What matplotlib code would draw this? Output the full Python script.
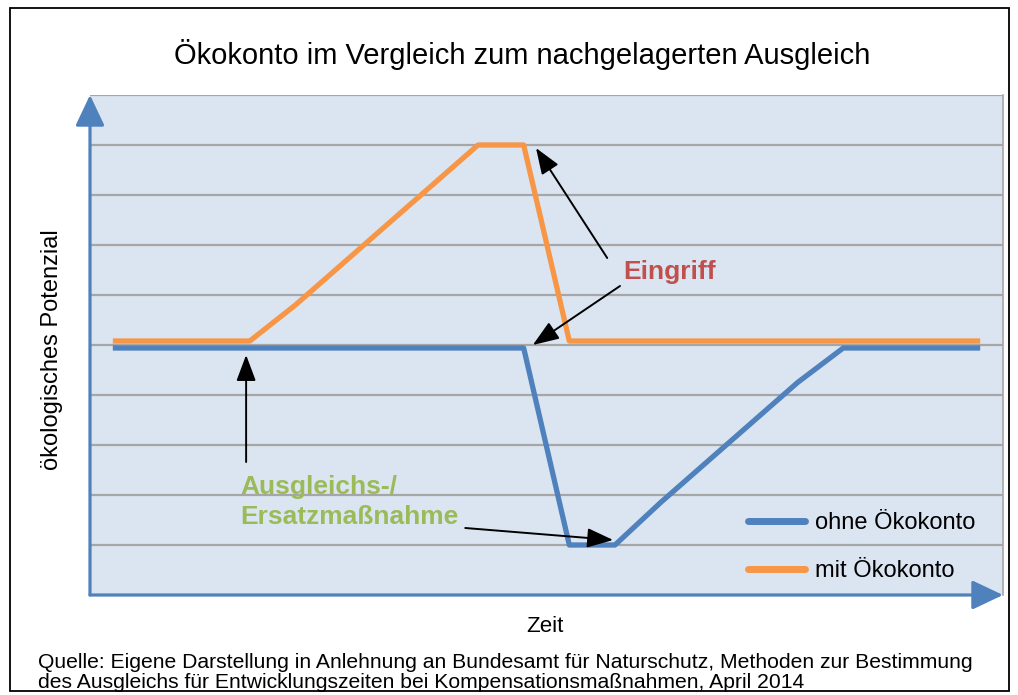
import matplotlib
matplotlib.use("Agg")
import matplotlib.pyplot as plt
from matplotlib.patches import Rectangle

plt.rcParams['font.family'] = ['Liberation Sans', 'DejaVu Sans']

# ---- data ----
zeit = list(range(20))
ohne_oekokonto = [4.94, 4.94, 4.94, 4.94, 4.94, 4.94, 4.94, 4.94, 4.94, 4.94,
                  1.0, 1.0, 1.85, 2.65, 3.45, 4.25, 4.94, 4.94, 4.94, 4.94]
mit_oekokonto = [5.08, 5.08, 5.08, 5.08, 5.8, 6.6, 7.4, 8.2, 9.0, 9.0,
                 5.08, 5.08, 5.08, 5.08, 5.08, 5.08, 5.08, 5.08, 5.08, 5.08]
y_grid = list(range(0, 11))

title = "Ökokonto im Vergleich zum nachgelagerten Ausgleich"
ylabel = "ökologisches Potenzial"
xlabel = "Zeit"
source_lines = ["Quelle: Eigene Darstellung in Anlehnung an Bundesamt für Naturschutz, Methoden zur Bestimmung",
                "des Ausgleichs für Entwicklungszeiten bei Kompensationsmaßnahmen, April 2014"]

BLUE = '#4F81BD'
ORANGE = '#F79646'
RED = '#C0504D'
GREEN = '#9BBB59'
BG = '#DBE5F1'
GRID = '#A6A6A6'

W, H = 1018, 695
fig = plt.figure(figsize=(W / 100, H / 100), dpi=100)
fig.patch.set_facecolor('white')

# figure border
fig.patches.append(Rectangle((10 / W, 1 - 691 / H), 999 / W, 683 / H,
                             transform=fig.transFigure, fill=False,
                             edgecolor='black', linewidth=1.3))

ax = fig.add_axes([90 / W, (H - 595) / H, 913 / W, 500 / H])
ax.set_facecolor(BG)
ax.set_xlim(-0.5, 19.5)
ax.set_ylim(0, 10)

for yv in y_grid[1:]:
    ax.axhline(yv, color=GRID, lw=1.6, zorder=1)

for s in ['left', 'bottom', 'top']:
    ax.spines[s].set_visible(False)
ax.spines['right'].set_color(GRID)
ax.spines['right'].set_linewidth(1.2)
ax.set_xticks([])
ax.set_yticks([])

ax.plot(zeit, ohne_oekokonto, color=BLUE, lw=3.8, solid_joinstyle='round',
        solid_capstyle='butt', zorder=3, label='ohne Ökokonto')
ax.plot(zeit, mit_oekokonto, color=ORANGE, lw=3.8, solid_joinstyle='round',
        solid_capstyle='butt', zorder=3, label='mit Ökokonto')

# axis arrows
ax.annotate('', xy=(0, 1.0), xytext=(0, 0), xycoords='axes fraction',
            textcoords='axes fraction', annotation_clip=False,
            arrowprops=dict(arrowstyle='-|>,head_length=0.95,head_width=0.45',
                            mutation_scale=20, lw=2.3, color=BLUE,
                            shrinkA=0, shrinkB=0), zorder=5)
ax.annotate('', xy=(1.0, 0), xytext=(0, 0), xycoords='axes fraction',
            textcoords='axes fraction', annotation_clip=False,
            arrowprops=dict(arrowstyle='-|>,head_length=0.95,head_width=0.45',
                            mutation_scale=20, lw=2.3, color=BLUE,
                            shrinkA=0, shrinkB=0), zorder=5)

# annotations
arr = dict(arrowstyle='-|>,head_length=0.8,head_width=0.3', mutation_scale=20,
           lw=1.4, color='black', shrinkA=0, shrinkB=0)
ax.text(12.2, 6.46, "Eingriff", color=RED, fontsize=19, fontweight='bold',
        ha='center', va='center', zorder=6)
ax.annotate('', xy=(9.27, 8.94), xytext=(10.83, 6.74), arrowprops=arr, zorder=6)
ax.annotate('', xy=(9.2, 5.0), xytext=(11.11, 6.18), arrowprops=arr, zorder=6)

ax.text(2.79, 1.86, "Ausgleichs-/\nErsatzmaßnahme", color=GREEN, fontsize=19,
        fontweight='bold', ha='left', va='center', linespacing=1.3, zorder=6)
ax.annotate('', xy=(2.92, 4.8), xytext=(2.92, 2.66), arrowprops=arr, zorder=6)
ax.annotate('', xy=(10.96, 1.1), xytext=(7.72, 1.34), arrowprops=arr, zorder=6)

leg = ax.legend(loc='center left', bbox_to_anchor=((748 - 90) / 913, (595 - 547) / 500),
                frameon=False, fontsize=17, handlelength=2.4, handletextpad=0.45,
                labelspacing=1.1, borderpad=0, borderaxespad=0)
for line in leg.get_lines():
    line.set_linewidth(5)
    line.set_solid_capstyle('round')

fig.text(522 / W, 1 - 55 / H, title, fontsize=21, ha='center', va='center')
fig.text(52 / W, 1 - 350 / H, ylabel, fontsize=17, rotation=90,
         ha='center', va='center')
fig.text(545 / W, 1 - 627 / H, xlabel, fontsize=16, ha='center', va='center')
for i, ln in enumerate(source_lines):
    fig.text(38 / W, 1 - (662 + 21 * i) / H, ln, fontsize=15.2, ha='left',
             va='center')

fig.savefig('out.png', dpi=100)
